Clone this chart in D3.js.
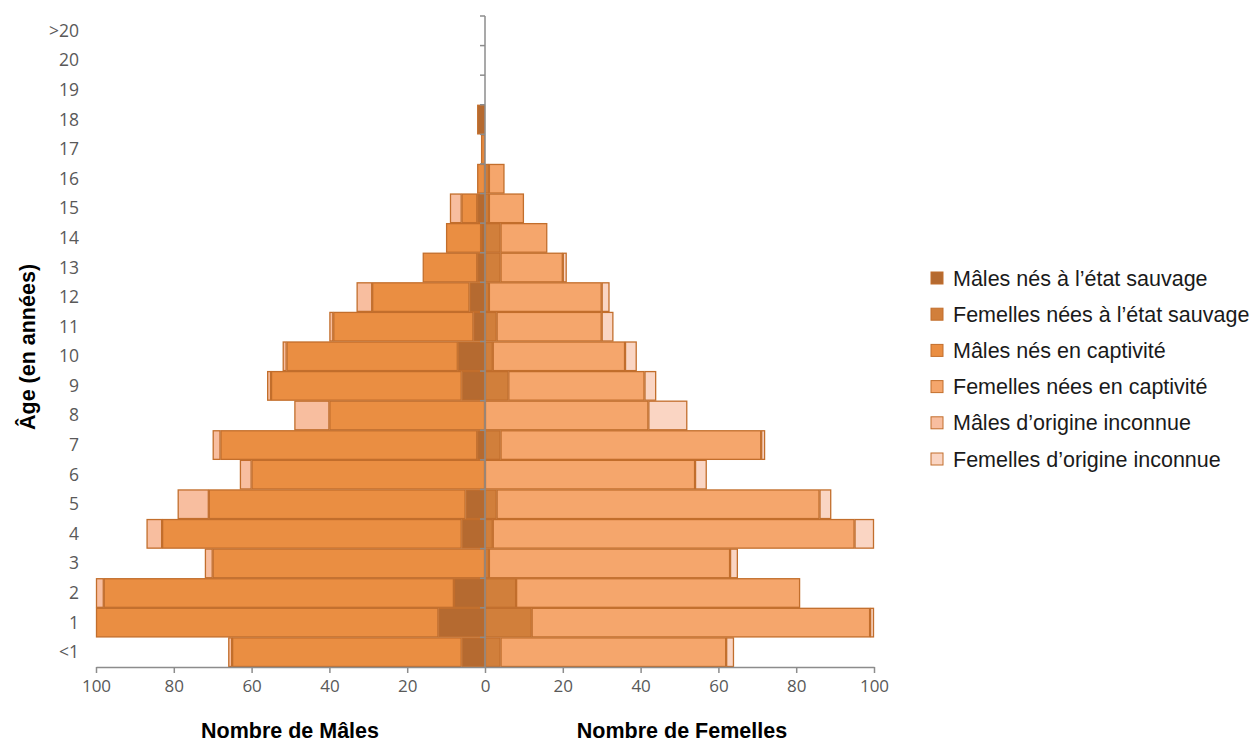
<!DOCTYPE html>
<html><head><meta charset="utf-8">
<script src="https://cdn.jsdelivr.net/npm/d3@7"></script>
<style>body{margin:0;background:#fff}svg{display:block}</style>
</head><body>
<svg id="c" width="1251" height="744"></svg>
<script>
const ages = ["<1","1","2","3","4","5","6","7","8","9","10","11","12","13","14","15","16","17","18","19","20",">20"];
const maleWild     = [6,12,8,0,6,5,0,2,0,6,7,3,4,2,1,2,0,0,2,0,0,0];
const maleCaptive  = [59,88,90,70,77,66,60,66,40,49,44,36,25,14,9,4,2,1,0,0,0,0];
const maleUnknown  = [1,0,2,2,4,8,3,2,9,1,1,1,4,0,0,3,0,0,0,0,0,0];
const femaleWild    = [4,12,8,1,2,3,0,4,0,6,2,3,1,4,4,1,1,0,0,0,0,0];
const femaleCaptive = [58,87,73,62,93,83,54,67,42,35,34,27,29,16,12,9,4,0,0,0,0,0];
const femaleUnknown = [2,1,0,2,5,3,3,1,10,3,3,3,2,1,0,0,0,0,0,0,0,0];
const xTicks = [-100,-80,-60,-40,-20,0,20,40,60,80,100];
const seriesNames = ["Mâles nés à l’état sauvage","Femelles nées à l’état sauvage","Mâles nés en captivité","Femelles nées en captivité","Mâles d’origine inconnue","Femelles d’origine inconnue"];
const colors = ["#B56A30","#D17F3B","#EA8E42","#F5A66C","#F8BE9F","#FAD5C3"];
const stroke = "#C26E2C";

const svg = d3.select("#c");
const x = d3.scaleLinear().domain([-100,100]).range([96,874]);
const y = d3.scaleBand().domain(ages).range([667,16]).padding(0);

const g = svg.append("g");
function drawSide(sign, arrs, colIdx){
  ages.forEach((a,i)=>{
    let acc=0;
    arrs.forEach((arr,k)=>{
      const v=arr[i];
      if(v>0){
        const x0=x(sign*acc), x1=x(sign*(acc+v));
        g.append("rect")
          .attr("x",Math.min(x0,x1)+0.5).attr("y",y(a)+0.5)
          .attr("width",Math.abs(x1-x0)-1).attr("height",y.bandwidth()-1)
          .attr("fill",colors[colIdx[k]]).attr("stroke",stroke).attr("stroke-width",1.3);
      }
      acc+=v;
    });
  });
}
drawSide(-1,[maleWild,maleCaptive,maleUnknown],[0,2,4]);
drawSide(1,[femaleWild,femaleCaptive,femaleUnknown],[1,3,5]);

// vertical axis
const axisColor="#8c8c8c";
svg.append("line").attr("x1",x(0)).attr("x2",x(0)).attr("y1",16).attr("y2",667).attr("stroke",axisColor).attr("stroke-width",1.5);
ages.forEach(a=>{
  svg.append("line").attr("x1",x(0)-5).attr("x2",x(0)).attr("y1",y(a)).attr("y2",y(a)).attr("stroke",axisColor).attr("stroke-width",1.5);
  svg.append("text").attr("x",79).attr("y",y(a)+y.bandwidth()/2+6).attr("text-anchor","end")
    .attr("font-family","Open Sans, sans-serif").attr("font-size",17.5).attr("fill","#595959").text(a);
});
// horizontal axis
const xa = svg.append("g").attr("transform","translate(0,667)")
  .call(d3.axisBottom(x).tickValues(xTicks).tickSize(6).tickSizeOuter(0).tickFormat(d=>Math.abs(d)));
xa.select(".domain").attr("stroke",axisColor).attr("stroke-width",1.5);
xa.selectAll(".tick line").attr("stroke",axisColor).attr("stroke-width",1.5);
xa.selectAll(".tick text").attr("font-family","Open Sans, sans-serif").attr("font-size",17).attr("fill","#595959").attr("dy","0.95em");

// titles
const tf="Liberation Sans, Arial, sans-serif";
svg.append("text").attr("x",290).attr("y",738).attr("text-anchor","middle").attr("font-family",tf).attr("font-weight","bold").attr("font-size",21.5).text("Nombre de Mâles");
svg.append("text").attr("x",682).attr("y",738).attr("text-anchor","middle").attr("font-family",tf).attr("font-weight","bold").attr("font-size",21.5).text("Nombre de Femelles");
svg.append("text").attr("transform","translate(35,347) rotate(-90)").attr("text-anchor","middle").attr("font-family",tf).attr("font-weight","bold").attr("font-size",21.5).text("Âge (en années)");

// legend
seriesNames.forEach((n,i)=>{
  const ly=278+i*36.2;
  svg.append("rect").attr("x",931).attr("y",ly-6).attr("width",12).attr("height",12).attr("fill",colors[i]).attr("stroke",stroke).attr("stroke-width",1);
  svg.append("text").attr("x",953).attr("y",ly+7.5).attr("font-family",tf).attr("font-size",21.5).attr("fill","#1a1a1a").text(n);
});
</script>
</body></html>
